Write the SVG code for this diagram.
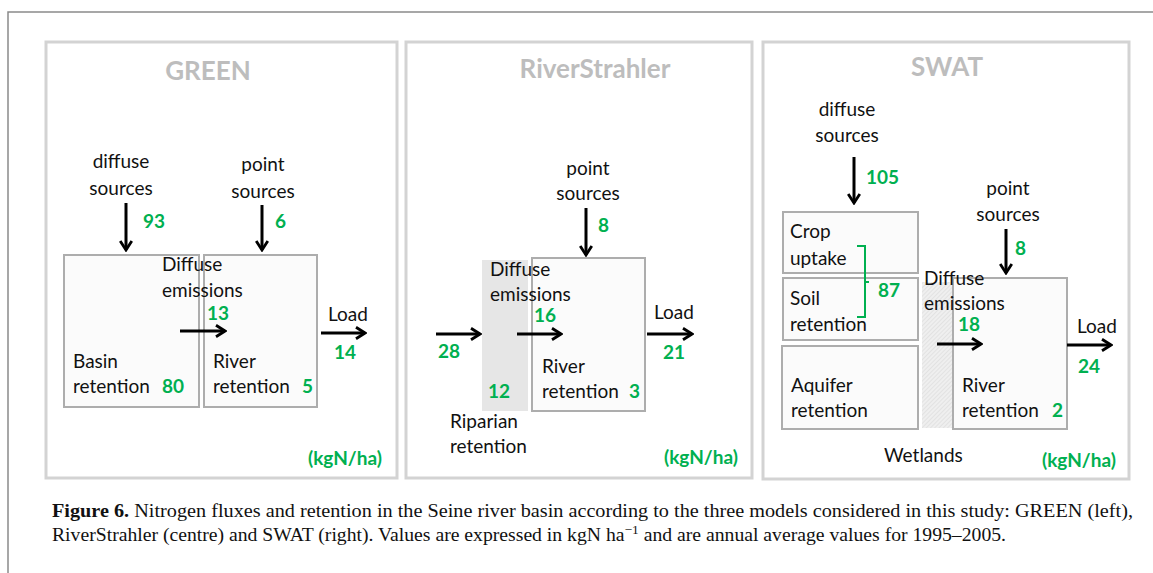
<svg xmlns="http://www.w3.org/2000/svg" width="1153" height="573" viewBox="0 0 1153 573">
<style>
.t{font-family:Lato,"Noto Sans",sans-serif;font-size:19px;fill:#111}
.g{font-family:Lato,"Noto Sans",sans-serif;font-size:19px;font-weight:bold;fill:#00b050}
.title{font-family:Lato,"Noto Sans",sans-serif;font-size:26px;font-weight:bold;fill:#bdbdbd;text-anchor:middle}
.panel{fill:#fff;stroke:#d3d3d3;stroke-width:3}
.box{fill:#fbfbfb;stroke:#adadad;stroke-width:2}
.cap{font-family:"Liberation Serif",serif;font-size:19px;fill:#111}
.ar{stroke:#000;stroke-width:3;fill:none;marker-end:url(#ah)}
.m{text-anchor:middle}
</style>
<defs>
<marker id="ah" markerUnits="userSpaceOnUse" viewBox="0 0 12 14" refX="10.5" refY="7" markerWidth="12" markerHeight="14" orient="auto">
<path d="M1.5,1.2 L10.5,7 L1.5,12.8" fill="none" stroke="#000" stroke-width="2.8"/>
</marker>
<pattern id="hatch" patternUnits="userSpaceOnUse" width="3" height="3" patternTransform="rotate(45)">
<rect width="3" height="3" fill="#efefef"/>
<line x1="0" y1="0" x2="0" y2="3" stroke="#d6d6d6" stroke-width="1"/>
</pattern>
</defs>
<rect width="1153" height="573" fill="#fff"/>
<path d="M8,573 V12 H1153" fill="none" stroke="#8a8a8a" stroke-width="1.5"/>

<!-- GREEN panel -->
<g id="panel-green">
<rect class="panel" x="46" y="42" width="351" height="436"/>
<text class="title" x="208" y="80">GREEN</text>
<text class="g" x="308" y="465">(kgN/ha)</text>
</g>
<g id="green-diffuse-sources"><text class="t m" x="121" y="168">diffuse</text><text class="t m" x="121" y="195">sources</text><text class="g" x="143" y="228">93</text></g>
<g id="green-point-sources"><text class="t m" x="263" y="171">point</text><text class="t m" x="263" y="198">sources</text><text class="g" x="275" y="228">6</text></g>
<g id="green-basin"><rect class="box" x="64" y="255" width="135" height="152"/><text class="t" x="73" y="368">Basin</text><text class="t" x="73" y="393">retention</text><text class="g" x="162" y="393">80</text></g>
<g id="green-river"><rect class="box" x="204" y="255" width="113" height="152"/><text class="t" x="213" y="368">River</text><text class="t" x="213" y="393">retention</text><text class="g" x="302" y="393">5</text></g>
<g id="green-emissions"><text class="t" x="162" y="271">Diffuse</text><text class="t" x="162" y="297">emissions</text><text class="g" x="207" y="320">13</text></g>
<g id="green-load"><text class="t" x="328" y="321">Load</text><text class="g" x="334" y="359">14</text></g>

<!-- RiverStrahler panel -->
<g id="panel-riverstrahler">
<rect class="panel" x="406" y="42" width="346" height="436"/>
<text class="title" x="595" y="78">RiverStrahler</text>
<text class="g" x="664" y="464">(kgN/ha)</text>
</g>
<g id="rs-point-sources"><text class="t m" x="588" y="175">point</text><text class="t m" x="588" y="200">sources</text><text class="g" x="598" y="232">8</text></g>
<g id="rs-riparian"><rect x="482" y="260" width="46" height="151" fill="#e6e6e6"/><text class="g" x="488" y="398">12</text><text class="t" x="450" y="428">Riparian</text><text class="t" x="450" y="453">retention</text></g>
<g id="rs-river"><rect class="box" x="532" y="258" width="113" height="153"/><text class="t" x="542" y="373">River</text><text class="t" x="542" y="398">retention</text><text class="g" x="629" y="398">3</text></g>
<g id="rs-emissions"><text class="t" x="490" y="276">Diffuse</text><text class="t" x="490" y="301">emissions</text><text class="g" x="534" y="322">16</text></g>
<g id="rs-inflow"><text class="g" x="438" y="358">28</text></g>
<g id="rs-load"><text class="t" x="654" y="319">Load</text><text class="g" x="663" y="359">21</text></g>

<!-- SWAT panel -->
<g id="panel-swat">
<rect class="panel" x="763" y="42" width="366" height="437"/>
<text class="title" x="947" y="76">SWAT</text>
<text class="g" x="1042" y="467">(kgN/ha)</text>
</g>
<g id="swat-diffuse-sources"><text class="t m" x="847" y="116">diffuse</text><text class="t m" x="847" y="142">sources</text><text class="g" x="866" y="184">105</text></g>
<g id="swat-point-sources"><text class="t m" x="1008" y="195">point</text><text class="t m" x="1008" y="221">sources</text><text class="g" x="1015" y="255">8</text></g>
<g id="swat-crop"><rect class="box" x="783" y="212" width="135" height="61"/><text class="t" x="790" y="238">Crop</text><text class="t" x="790" y="265">uptake</text></g>
<g id="swat-soil"><rect class="box" x="783" y="278" width="135" height="62"/><text class="t" x="790" y="305">Soil</text><text class="t" x="790" y="331">retention</text></g>
<g id="swat-aquifer"><rect class="box" x="782" y="346" width="136" height="83"/><text class="t" x="791" y="392">Aquifer</text><text class="t" x="791" y="417">retention</text></g>
<g id="swat-soil-crop-total"><path d="M857,246 H865 V317 H857 M865,282 H869" fill="none" stroke="#00b050" stroke-width="2"/><text class="g" x="878" y="297">87</text></g>
<g id="swat-wetlands"><rect x="922" y="282" width="31" height="146" fill="url(#hatch)"/><text class="t" x="884" y="462">Wetlands</text></g>
<g id="swat-river"><rect class="box" x="953" y="278" width="114" height="151"/><text class="t" x="962" y="392">River</text><text class="t" x="962" y="417">retention</text><text class="g" x="1052" y="417">2</text></g>
<g id="swat-emissions"><text class="t" x="924" y="285">Diffuse</text><text class="t" x="924" y="310">emissions</text><text class="g" x="958" y="331">18</text></g>
<g id="swat-load"><text class="t" x="1077" y="333">Load</text><text class="g" x="1078" y="373">24</text></g>

<g id="connectors">
<line class="ar" x1="126" y1="203" x2="126" y2="250"/>
<line class="ar" x1="262" y1="205" x2="262" y2="250"/>
<line class="ar" x1="180" y1="331" x2="225" y2="331"/>
<line class="ar" x1="321" y1="333" x2="365" y2="333"/>
<line class="ar" x1="586" y1="208" x2="586" y2="255"/>
<line class="ar" x1="436" y1="334" x2="480" y2="334"/>
<line class="ar" x1="517" y1="334" x2="561" y2="334"/>
<line class="ar" x1="647" y1="334" x2="692" y2="334"/>
<line class="ar" x1="854" y1="157" x2="854" y2="203"/>
<line class="ar" x1="1006" y1="229" x2="1006" y2="273"/>
<line class="ar" x1="937" y1="344" x2="981" y2="344"/>
<line class="ar" x1="1067" y1="345" x2="1111" y2="345"/>
</g>

<g id="caption">
<text class="cap" x="52" y="517" textLength="1081" lengthAdjust="spacingAndGlyphs"><tspan font-weight="bold">Figure 6.</tspan> Nitrogen fluxes and retention in the Seine river basin according to the three models considered in this study: GREEN (left),</text>
<text class="cap" x="52" y="541" textLength="954" lengthAdjust="spacingAndGlyphs">RiverStrahler (centre) and SWAT (right). Values are expressed in kgN ha<tspan dy="-7" font-size="13">−1</tspan><tspan dy="7"> and are annual average values for 1995–2005.</tspan></text>
</g>
</svg>
